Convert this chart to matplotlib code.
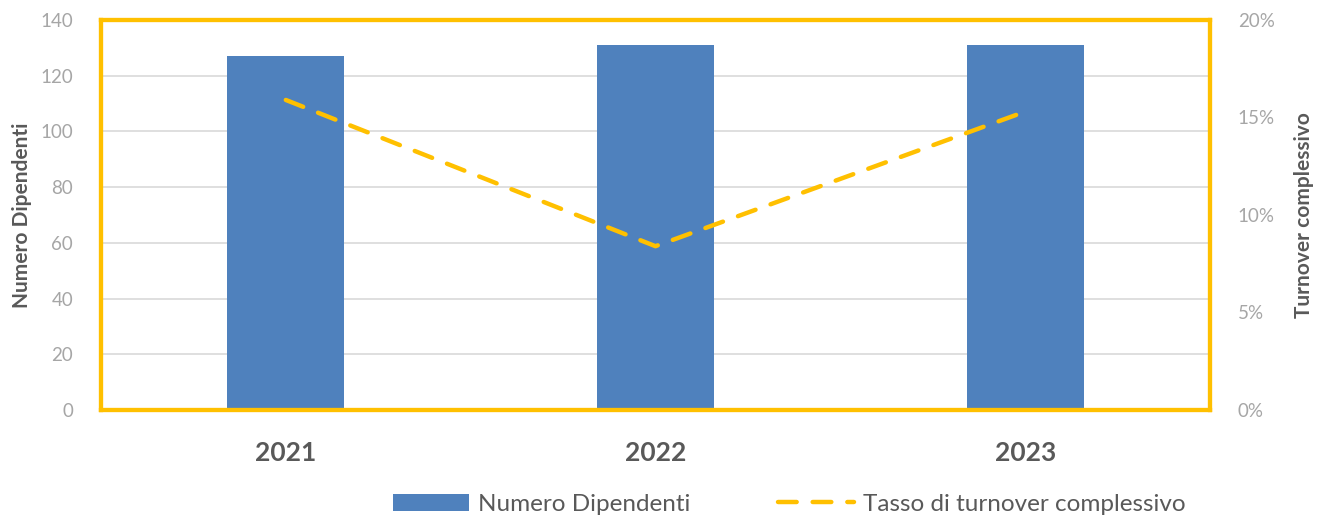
import matplotlib.pyplot as plt
from matplotlib.ticker import FuncFormatter

years = ['2021', '2022', '2023']
dipendenti = [127, 131, 131]
turnover = [0.159, 0.084, 0.153]

blue = '#4F81BD'
gold = '#FFC000'
grid_grey = '#D9D9D9'
tick_grey = '#A6A6A6'
label_grey = '#595959'

plt.rcParams['font.family'] = ['Lato', 'DejaVu Sans']

fig = plt.figure(figsize=(13.27, 5.21), dpi=100)
ax = fig.add_axes([0.0761, 0.2131, 0.8357, 0.7485])
ax2 = ax.twinx()

x = list(range(len(years)))
ax.bar(x, dipendenti, width=0.317, color=blue, label='Numero Dipendenti', zorder=2)
ax2.plot(x, turnover, color=gold, lw=3.2, dashes=(4.2, 3.6), dash_capstyle='round',
         label='Tasso di turnover complessivo', zorder=3)

ax.set_xlim(-0.5, 2.5)
ax.set_ylim(0, 140)
ax.set_yticks(range(0, 141, 20))
ax2.set_ylim(0, 0.20)
ax2.set_yticks([0, 0.05, 0.10, 0.15, 0.20])
ax2.yaxis.set_major_formatter(FuncFormatter(lambda v, p: f'{v*100:.0f}%'))

ax.yaxis.grid(True, color=grid_grey, lw=1.2, zorder=0)
ax.set_axisbelow(True)

ax.set_xticks(x)
ax.set_xticklabels(years, fontsize=19, fontweight='bold', color=label_grey)
ax.tick_params(axis='x', length=0, pad=22)
ax.tick_params(axis='y', length=0, labelsize=13.5, labelcolor=tick_grey, pad=20)
ax2.tick_params(axis='y', length=0, labelsize=13.5, labelcolor=tick_grey, pad=20)

for a in (ax, ax2):
    for s in a.spines.values():
        s.set_color(gold)
        s.set_linewidth(3)

ax.set_ylabel('Numero Dipendenti', fontsize=15, fontweight='bold', color=label_grey, labelpad=6)
ax2.set_ylabel('Turnover complessivo', fontsize=15, fontweight='bold', color=label_grey, labelpad=14)

h1, l1 = ax.get_legend_handles_labels()
h2, l2 = ax2.get_legend_handles_labels()
leg = fig.legend(h1 + h2, l1 + l2, loc='lower center', bbox_to_anchor=(0.595, -0.03), ncol=2,
                 frameon=False, fontsize=17.5, handlelength=3.1, handleheight=0.7,
                 columnspacing=3.6, handletextpad=0.4)
for t in leg.get_texts():
    t.set_color(label_grey)

fig.savefig('out.png', dpi=100)
